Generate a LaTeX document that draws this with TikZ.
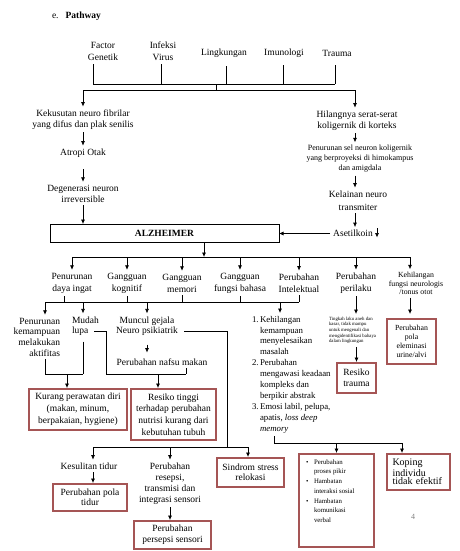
\documentclass[tikz,border=0pt]{standalone}
\usepackage{fontspec}
\setmainfont{Liberation Serif}
\usetikzlibrary{arrows.meta,calc}
\definecolor{boxred}{RGB}{165,85,85}
\begin{document}
\begin{tikzpicture}[x=1pt,y=-1pt,
  every node/.style={inner sep=0pt, outer sep=3pt},
  txt/.style={align=center, font=\fontsize{9.5}{11.5}\selectfont},
  sk/.style={font=\fontsize{9.5}{#1}\selectfont},
  arr/.style={-{Latex[length=4.5pt,width=4pt]}, line width=0.7pt},
  ln/.style={line width=0.7pt},
  rbox/.style={draw=boxred, line width=1.8pt, outer sep=1pt, align=center, font=\fontsize{9.5}{11}\selectfont}
]
\useasboundingbox (0,0) rectangle (460,551);

% title
\node[anchor=west, font=\fontsize{9.5}{11}\selectfont] (title) at (49,16) {e.\hspace{7pt}\textbf{Pathway}};

% causes
\node[txt, sk=12] (fg) at (103,51) {Factor\\Genetik};
\node[txt, sk=12] (iv) at (163,51) {Infeksi\\Virus};
\node[txt] (lk) at (224,53) {Lingkungan};
\node[txt] (im) at (284,53) {Imunologi};
\node[txt] (tr) at (337,53) {Trauma};

\coordinate (c1) at (93,84);
\coordinate (c2) at (161,84);
\coordinate (c3) at (226,84);
\coordinate (c4) at (283,84);
\coordinate (c5) at (335,84);
\draw[ln, shorten <=1pt] (fg.south -| c1) -- (c1);
\draw[ln, shorten <=1pt] (iv.south -| c2) -- (c2);
\draw[ln, shorten <=6pt] (lk.south -| c3) -- (c3);
\draw[ln, shorten <=5pt] (im.south -| c4) -- (c4);
\draw[ln, shorten <=6pt] (tr.south -| c5) -- (c5);
\draw[ln] (c1) -- (c5);
\coordinate (cm) at (216,84);
\coordinate (sm) at (216,90);
\coordinate (sL) at (83,90);
\coordinate (sR) at (355,90);
\draw[ln] (cm) -- (sm);
\draw[ln] (sL) -- (sR);

% left chain
\node[txt, sk=11] (kek) at (83,119.5) {Kekusutan neuro fibrilar\\yang difus dan plak senilis};
\node[txt] (atr) at (83,153) {Atropi Otak};
\node[txt, sk=11] (deg) at (83,193.5) {Degenerasi neuron\\irreversible};
\draw[arr] (sL) -- (sL |- kek.north);
\draw[arr] (kek) -- (atr);
\draw[arr, shorten <=9pt] (atr) -- (deg);

\node[draw, line width=0.8pt, minimum width=229pt, minimum height=18pt, outer sep=0pt,
      font=\fontsize{9.5}{11}\selectfont\bfseries] (alz) at (164.5,233) {ALZHEIMER};
\draw[arr] (deg) -- (deg |- alz.north);

% right chain
\node[txt, sk=11] (hil) at (357,120.5) {Hilangnya serat-serat\\koligernik di korteks};
\node[align=center, font=\fontsize{8}{10}\selectfont] (pns) at (360,159) {Penurunan sel neuron koligernik\\yang berproyeksi di himokampus\\dan amigdala};
\node[txt, sk=13] (kel) at (358,200.5) {Kelainan neuro\\transmiter};
\node[txt] (ase) at (353,233.5) {Asetilkoin};
\draw[arr] (sR) -- (sR |- hil.north);
\draw[arr] (hil.south -| sR) -- (sR |- pns.north);
\draw[arr] (pns.south -| sR) -- (sR |- kel.north);
\draw[arr] (kel.south -| sR) -- (sR |- ase.north);
\draw[arr] (ase) -- (ase -| alz.east);
\coordinate (sa1) at (377,228);
\coordinate (sa2) at (377,237.5);
\draw[arr] (sa1) -- (sa2);

% level 1
\coordinate (h1a) at (72,257);
\coordinate (h1b) at (410,257);
\coordinate (h1m) at (204,257);
\draw[arr] (alz.south -| h1m) -- (h1m);
\draw[ln] (h1a) -- (h1b);

\node[txt, sk=12] (pdi) at (72,283) {Penurunan\\daya ingat};
\node[txt, sk=12] (gk) at (127,283) {Gangguan\\kognitif};
\node[txt, sk=12] (gm) at (182,283) {Gangguan\\memori};
\node[txt, sk=12] (gfb) at (240,283) {Gangguan\\fungsi bahasa};
\node[txt, sk=12] (pi) at (299,283) {Perubahan\\Intelektual};
\node[txt, sk=12] (pp) at (356,283) {Perubahan\\perilaku};
\node[align=center, font=\fontsize{7.8}{8.5}\selectfont] (kfn) at (416,283.5) {Kehilangan\\fungsi neurologis\\/tonus otot};

\draw[arr] (h1a) -- (pdi);
\draw[arr] (h1a -| gk) -- (gk);
\draw[arr] (h1a -| gm) -- (gm);
\draw[arr] (h1a -| gfb) -- (gfb);
\draw[arr] (h1a -| pi) -- (pi);
\draw[arr] (h1a -| pp) -- (pp);
\draw[arr] (h1b) -- (h1b |- kfn.north);

% level 2 line
\coordinate (h2a) at (45,302);
\coordinate (h2b) at (299,302);
\coordinate (t1) at (64,302);
\coordinate (h2c) at (83,302);
\coordinate (h2d) at (280,302);
\draw[ln] (h2a) -- (h2b);
\draw[ln] (pdi.south -| t1) -- (t1);
\draw[ln] (gk) -- (gk |- h2a);
\draw[ln] (gm) -- (gm |- h2a);
\draw[ln] (gfb) -- (gfb |- h2a);
\draw[ln] (pi) -- (pi |- h2a);

% level 3
\node[align=right, anchor=east, sk=10.7] (pk) at (63,337) {Penurunan\\kemampuan\\melakukan\\aktifitas};
\node[align=left, anchor=west, sk=10.5] (ml) at (69,326) {Mudah\\lupa};
\node[txt, sk=10.5] (mg) at (147,326) {Muncul gejala\\Neuro psikiatrik};
\node[txt] (nfs) at (162,362) {Perubahan nafsu makan};
\node[anchor=north west, align=left, font=\fontsize{8.8}{10.9}\selectfont] (lst) at (249,313) {%
\makebox[8pt][l]{1.}Kehilangan\\
\hspace*{8pt}kemampuan\\
\hspace*{8pt}menyelesaikan\\
\hspace*{8pt}masalah\\
\makebox[8pt][l]{2.}Perubahan\\
\hspace*{8pt}mengawasi keadaan\\
\hspace*{8pt}kompleks dan\\
\hspace*{8pt}berpikir abstrak\\
\makebox[8pt][l]{3.}Emosi labil, pelupa,\\
\hspace*{8pt}apatis, \textit{loss deep}\\
\hspace*{8pt}\textit{memory}};
\node[anchor=north west, align=left, font=\fontsize{4.8}{5.6}\selectfont] (tl) at (326,314) {Tingkah laku aneh dan\\kasar, tidak mampu\\untuk mengenali dan\\mengidentifikasi bahaya\\dalam lingkungan};

\draw[arr] (h2a) -- (h2a |- pk.north);
\draw[arr] (h2c) -- (h2c |- ml.north);
\draw[arr] (h2a -| mg) -- (mg);
\draw[arr] (h2d) -- (h2d |- lst.north);
\draw[arr, shorten <=6pt, shorten >=3pt] (mg) -- (mg |- nfs.north);
\draw[arr] (pp) -- (pp |- tl.north);

% boxes
\node[rbox, minimum width=98pt, minimum height=41pt, font=\fontsize{9.5}{12}\selectfont] (kpd) at (78,409.5) {Kurang perawatan diri\\(makan, minum,\\berpakaian, hygiene)};
\node[rbox, minimum width=85pt, minimum height=51pt, font=\fontsize{9.5}{11.7}\selectfont] (rt) at (173.5,414.5) {Resiko tinggi\\terhadap perubahan\\nutrisi kurang dari\\kebutuhan tubuh};
\node[rbox, minimum width=49pt, minimum height=45pt, font=\fontsize{7.8}{9}\selectfont] (ppe) at (411.5,341.5) {Perubahan\\pola\\eleminasi\\urine/alvi};
\node[rbox, minimum width=39pt, minimum height=30pt] (rtr) at (356.5,378) {Resiko\\trauma};
\node[rbox, minimum width=67pt, minimum height=29pt, font=\fontsize{9.5}{10}\selectfont] (ssr) at (250.5,472.5) {Sindrom stress\\relokasi};
\node[rbox, minimum width=75pt, minimum height=93pt] (bb) at (336.5,500.5) {};
\node[anchor=north west, align=left, font=\fontsize{6.8}{9.7}\selectfont] (bbt) at (303,456.5) {%
\makebox[8pt][l]{\textbullet}Perubahan\\
\hspace*{8pt}proses pikir\\
\makebox[8pt][l]{\textbullet}Hambatan\\
\hspace*{8pt}interaksi sosial\\
\makebox[8pt][l]{\textbullet}Hambatan\\
\hspace*{8pt}komunikasi\\
\hspace*{8pt}verbal};
\node[rbox, minimum width=63pt, minimum height=36pt, text width=52pt, align=left, font=\fontsize{10}{8.6}\selectfont] (kop) at (418.5,472) {Koping\\individu\\tidak efektif};
\node[rbox, minimum width=74pt, minimum height=27pt, font=\fontsize{9.5}{10}\selectfont] (ppt) at (90,497.5) {Perubahan pola\\tidur};
\node[rbox, minimum width=77pt, minimum height=28pt] (pps) at (172.5,535) {Perubahan\\persepsi sensori};

\draw[arr, shorten >=4pt] (kfn.south -| h1b) -- (h1b |- ppe.north);
\draw[arr] (tl.south -| rtr) -- (rtr.north);

% junctions to kpd and rt
\coordinate (jk1) at (45,374);
\coordinate (jk2) at (83,374);
\coordinate (ka) at (67,374);
\draw[ln] (pk.south -| jk1) -- (jk1) -- (jk2);
\draw[ln, shorten <=3pt] (ml.south -| jk2) -- (jk2);
\draw[arr] (ka) -- (ka |- kpd.north);

\coordinate (lupaR) at (94,331);
\coordinate (jr1) at (106,374);
\coordinate (jr2) at (186,374);
\coordinate (ra) at (158,374);
\draw[ln] (lupaR) -- (lupaR -| jr1) -- (jr1) -- (jr2);
\draw[ln] (nfs.south -| jr2) -- (jr2);
\draw[arr] (ra) -- (ra |- rt.north);

% neuro psikiatrik branch
\coordinate (mgR) at (184,331);
\coordinate (jn) at (227,447);
\coordinate (h3a) at (93,447);
\coordinate (h3b) at (248,447);
\draw[ln] (mgR) -- (mgR -| jn) -- (jn);
\draw[ln] (h3a) -- (h3b);

\node[txt] (kt) at (89,466) {Kesulitan tidur};
\node[txt, sk=11] (prt) at (170,483.5) {Perubahan\\resepsi,\\transmisi dan\\integrasi sensori};
\draw[arr] (h3a) -- (h3a |- kt.north);
\draw[arr] (h3a -| prt) -- (prt);
\draw[arr] (h3b) -- (h3b |- ssr.north);
\draw[arr] (kt.south -| h3a) -- (h3a |- ppt.north);
\draw[arr] (prt) -- (prt |- pps.north);

% list branch
\coordinate (l1) at (274,443);
\coordinate (l2) at (402,443);
\draw[ln] (lst.south -| l1) -- (l1) -- (l2);
\draw[arr] (l1 -| bb) -- (bb.north);
\draw[arr] (l2) -- (l2 |- kop.north);

% page number
\node[text=gray, font=\fontsize{8}{9}\selectfont] (pg) at (413,517) {4};
\end{tikzpicture}
\end{document}
